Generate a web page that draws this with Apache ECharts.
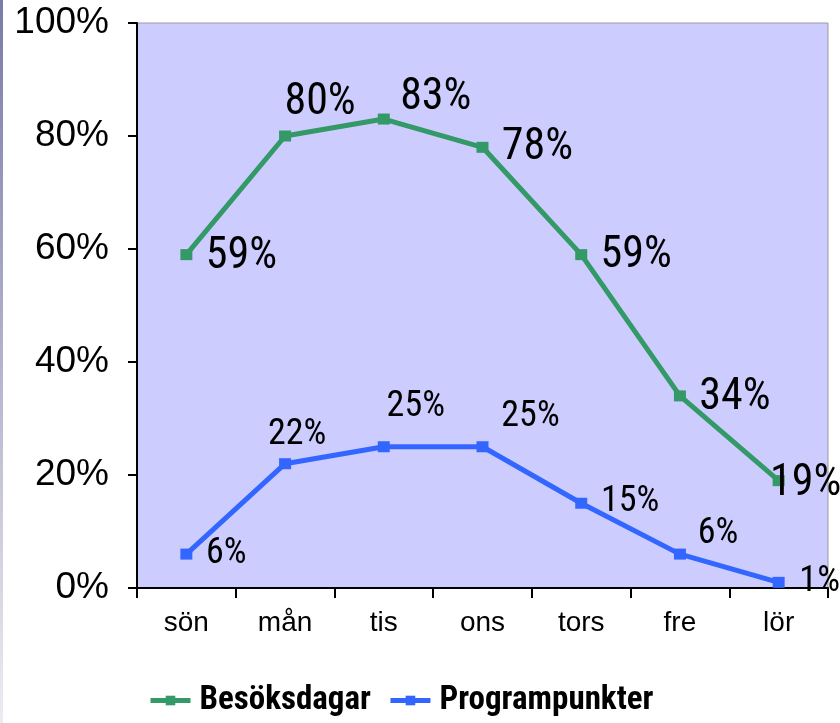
<!DOCTYPE html>
<html>
<head>
<meta charset="utf-8">
<script src="https://cdn.jsdelivr.net/npm/echarts@6/dist/echarts.min.js"></script>
<style>
  html, body { margin: 0; padding: 0; background: #fff; }
  #chart { width: 840px; height: 723px; }
</style>
</head>
<body>
<div id="chart"></div>
<script>
const categories = ['sön', 'mån', 'tis', 'ons', 'tors', 'fre', 'lör'];
const besoksdagar = [59, 80, 83, 78, 59, 34, 19];
const programpunkter = [6, 22, 25, 25, 15, 6, 1];

// label placement per point, [dx, dy] from the marker centre
const greenLabelOffsets = [[55, 2], [35, -33], [52, -21], [55, 1], [55, 1], [55, 2], [27, 3]];
const blueLabelOffsets = [[40, 0], [12, -29], [32, -40], [48, -30], [49, -1], [38, -20], [41, 0]];

const narrow = '"Roboto Condensed", "Liberation Sans Narrow", "Arial Narrow", Roboto, sans-serif';
const arial = '"Liberation Sans", Arial, sans-serif';

const chart = echarts.init(document.getElementById('chart'));

function withLabels(values, offsets) {
  return values.map((v, i) => ({
    value: v,
    label: { offset: offsets[i] },
  }));
}

const option = {
  animation: false,
  backgroundColor: '#ffffff',
  graphic: [
    {
      type: 'rect',
      left: 0,
      top: 0,
      shape: { width: 3, height: 723 },
      style: {
        fill: new echarts.graphic.LinearGradient(0, 0, 0, 1, [
          { offset: 0, color: '#7a7aa8' },
          { offset: 1, color: '#ececf2' },
        ]),
      },
    },
  ],
  grid: {
    left: 137,
    top: 23,
    right: 12,
    bottom: 135,
    show: true,
    backgroundColor: '#ccccff',
    borderColor: '#9a9a9a',
    borderWidth: 1,
  },
  legend: {
    left: 143,
    top: 679,
    itemWidth: 40,
    itemHeight: 12,
    itemGap: 17,
    lineStyle: { width: 5 },
    data: ['Besöksdagar', 'Programpunkter'],
    textStyle: {
      fontFamily: narrow,
      fontWeight: 'bold',
      fontSize: 33,
      color: '#000',
      padding: [0, 0, 0, 4],
    },
  },
  xAxis: {
    type: 'category',
    data: categories,
    boundaryGap: true,
    axisLine: { show: true, lineStyle: { color: '#000', width: 2 } },
    axisTick: { show: true, length: 10, lineStyle: { color: '#000', width: 2 } },
    axisLabel: {
      margin: 21,
      fontFamily: arial,
      fontSize: 28,
      color: '#000',
    },
    splitLine: { show: false },
  },
  yAxis: {
    type: 'value',
    min: 0,
    max: 100,
    interval: 20,
    axisLine: { show: true, lineStyle: { color: '#000', width: 2 } },
    axisTick: { show: true, length: 9, lineStyle: { color: '#000', width: 2 } },
    axisLabel: {
      margin: 28,
      formatter: '{value}%',
      fontFamily: arial,
      fontSize: 37,
      color: '#000',
    },
    splitLine: { show: false },
  },
  series: [
    {
      name: 'Besöksdagar',
      type: 'line',
      data: withLabels(besoksdagar, greenLabelOffsets),
      symbol: 'rect',
      symbolSize: [12, 11],
      itemStyle: { color: '#339966' },
      lineStyle: { color: '#339966', width: 5 },
      label: {
        show: true,
        position: 'inside',
        formatter: '{c}%',
        fontFamily: narrow,
        fontSize: 44,
        color: '#000',
      },
    },
    {
      name: 'Programpunkter',
      type: 'line',
      data: withLabels(programpunkter, blueLabelOffsets),
      symbol: 'rect',
      symbolSize: [12, 11],
      itemStyle: { color: '#3366ff' },
      lineStyle: { color: '#3366ff', width: 5 },
      label: {
        show: true,
        position: 'inside',
        formatter: '{c}%',
        fontFamily: narrow,
        fontSize: 36,
        color: '#000',
      },
    },
  ],
};

chart.setOption(option);
</script>
</body>
</html>
